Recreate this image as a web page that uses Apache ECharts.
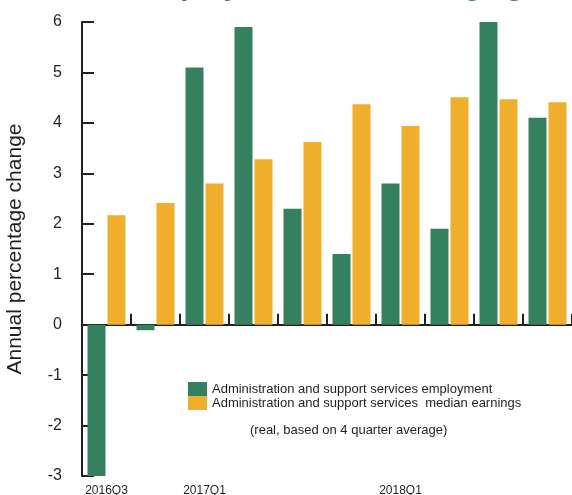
<!DOCTYPE html>
<html>
<head>
<meta charset="utf-8">
<script src="https://cdn.jsdelivr.net/npm/echarts@6/dist/echarts.min.js"></script>
<style>
  html, body { margin: 0; padding: 0; background: #fff; }
  #chart { width: 572px; height: 495px; }
</style>
</head>
<body>
<div id="chart"></div>
<script>
const quarters = ["2016Q3", "2016Q4", "2017Q1", "2017Q2", "2017Q3", "2017Q4", "2018Q1", "2018Q2", "2018Q3", "2018Q4"];
const shownLabels = ["2016Q3", "2017Q1", "2018Q1"];
const employment = [-3.0, -0.11, 5.1, 5.9, 2.3, 1.4, 2.8, 1.9, 6.0, 4.1];
const earnings = [2.17, 2.41, 2.8, 3.28, 3.62, 4.37, 3.94, 4.51, 4.47, 4.41];

const ink = "#231f20";
const font = "Liberation Sans";

const myChart = echarts.init(document.getElementById("chart"));
myChart.setOption({
  animation: false,
  backgroundColor: "#fff",
  textStyle: { fontFamily: font, color: ink },
  // title sits mostly above the top edge, only descenders show
  title: {
    text: "Employment and earnings growth",
    left: 135,
    top: -28,
    padding: 0,
    textStyle: { fontFamily: font, fontSize: 29, fontWeight: "bold", color: "#35815f" },
  },
  grid: { left: 82, right: 0, top: 22, bottom: 19, containLabel: false, outerBoundsMode: "none" },
  legend: {
    orient: "vertical",
    left: 188,
    top: 382,
    padding: 0,
    itemWidth: 19,
    itemHeight: 14,
    itemGap: 0,
    icon: "rect",
    textStyle: { fontFamily: font, fontSize: 13, color: ink },
  },
  graphic: [
    {
      type: "text",
      left: 250,
      top: 424,
      style: { text: "(real, based on 4 quarter average)", font: "13px " + font, fill: ink },
    },
  ],
  xAxis: [
    {
      type: "category",
      data: quarters,
      axisLine: { onZero: true, lineStyle: { color: ink, width: 2 } },
      axisTick: { show: true, interval: 0, inside: true, length: 11, lineStyle: { color: ink, width: 2 } },
      axisLabel: { show: false },
      splitLine: { show: false },
    },
    {
      type: "category",
      data: quarters,
      position: "bottom",
      axisLine: { show: false, onZero: false },
      axisTick: { show: false },
      axisLabel: {
        interval: 0,
        margin: 9,
        fontSize: 12,
        color: ink,
        fontFamily: font,
        formatter: function (v) {
          return shownLabels.indexOf(v) >= 0 ? v : "";
        },
      },
    },
  ],
  yAxis: {
    type: "value",
    min: -3,
    max: 6,
    interval: 1,
    name: "Annual percentage change",
    nameLocation: "middle",
    nameGap: 56,
    nameTextStyle: { fontSize: 21, color: ink, fontFamily: font, padding: [0, 0, 0, 0] },
    axisLine: { show: true, lineStyle: { color: ink, width: 2 } },
    axisTick: { show: true, inside: true, length: 12, lineStyle: { color: ink, width: 2 } },
    axisLabel: { fontSize: 16, margin: 20, color: ink, fontFamily: font },
    splitLine: { show: false },
  },
  series: [
    {
      name: "Administration and support services employment",
      type: "bar",
      barWidth: 18,
      barGap: "11%",
      itemStyle: { color: "#35815f" },
      data: employment,
    },
    {
      name: "Administration and support services  median earnings",
      type: "bar",
      barWidth: 18,
      itemStyle: { color: "#efae2b" },
      data: earnings,
    },
  ],
});
</script>
</body>
</html>
